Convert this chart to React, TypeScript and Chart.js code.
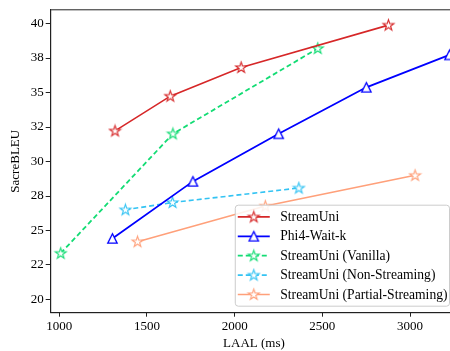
import React, { useEffect, useRef } from 'react';
import { Chart, registerables } from 'chart.js';

Chart.register(...registerables);

// ---- data ----
const seriesNames = [
  'StreamUni',
  'Phi4-Wait-k',
  'StreamUni (Vanilla)',
  'StreamUni (Non-Streaming)',
  'StreamUni (Partial-Streaming)',
];
const streamUniLaal = [1318, 1633, 2037, 2877];
const streamUniBleu = [32.22, 34.74, 36.82, 39.89];
const waitkLaal = [1303, 1762, 2251, 2751, 3225];
const waitkBleu = [24.42, 28.56, 32.01, 35.38, 37.73];
const vanillaLaal = [1008, 1648, 2474];
const vanillaBleu = [23.35, 32.01, 38.2];
const nonStreamLaal = [1377, 1646, 2366];
const nonStreamBleu = [26.5, 27.03, 28.08];
const partialLaal = [1446, 2175, 3029];
const partialBleu = [24.19, 26.77, 29.0];

const xTickValues = [1000, 1500, 2000, 2500, 3000];
const yTickValues = [20, 22.5, 25, 27.5, 30, 32.5, 35, 37.5, 40];
const yTickLabels = ['20', '22', '25', '28', '30', '32', '35', '38', '40'];

const FONT = "'Liberation Serif', 'DejaVu Serif', serif";

function makeStar(color: string) {
  const size = 15;
  const c = document.createElement('canvas');
  c.width = size;
  c.height = size;
  const ctx = c.getContext('2d')!;
  ctx.translate(size / 2, size / 2 + 0.3);
  const r = 5.7;
  ctx.beginPath();
  for (let i = 0; i < 10; i++) {
    const rad = i % 2 === 0 ? r : r * 0.382;
    const a = -Math.PI / 2 + (i * Math.PI) / 5;
    if (i === 0) ctx.moveTo(rad * Math.cos(a), rad * Math.sin(a));
    else ctx.lineTo(rad * Math.cos(a), rad * Math.sin(a));
  }
  ctx.closePath();
  ctx.fillStyle = '#ffffff';
  ctx.fill();
  ctx.strokeStyle = color;
  ctx.lineWidth = 1.1;
  ctx.lineJoin = 'miter';
  ctx.stroke();
  return c;
}

function makeTriangle(color: string) {
  const size = 15;
  const c = document.createElement('canvas');
  c.width = size;
  c.height = size;
  const ctx = c.getContext('2d')!;
  ctx.translate(size / 2, size / 2);
  const h = 4.7;
  ctx.beginPath();
  ctx.moveTo(0, -h);
  ctx.lineTo(-h, h);
  ctx.lineTo(h, h);
  ctx.closePath();
  ctx.fillStyle = '#ffffff';
  ctx.fill();
  ctx.strokeStyle = color;
  ctx.lineWidth = 1.3;
  ctx.stroke();
  return c;
}

const framePlugin = {
  id: 'frame',
  afterDraw(chart: any) {
    const { ctx, chartArea } = chart;
    ctx.save();
    ctx.strokeStyle = '#222';
    ctx.lineWidth = 1;
    ctx.strokeRect(chartArea.left, chartArea.top, chartArea.right - chartArea.left, chartArea.bottom - chartArea.top);
    ctx.restore();
  },
};

const legendPlugin = {
  id: 'mplLegend',
  afterDraw(chart: any) {
    const { ctx, chartArea } = chart;
    const ds = chart.data.datasets;
    ctx.save();
    ctx.font = `13.6px ${FONT}`;
    let maxW = 0;
    ds.forEach((d: any) => {
      maxW = Math.max(maxW, ctx.measureText(d.label).width);
    });
    const rowH = 19.4;
    const right = Math.min(chartArea.right - 6.5, 449.5);
    const bottom = chartArea.bottom - 6.5;
    const top = bottom - (rowH * ds.length + 4);
    const textOffset = 45;
    const left = right - (textOffset + maxW + 2);
    const w = right - left;
    const h = bottom - top;
    const rad = 3;
    ctx.beginPath();
    ctx.moveTo(left + rad, top);
    ctx.lineTo(left + w - rad, top);
    ctx.quadraticCurveTo(left + w, top, left + w, top + rad);
    ctx.lineTo(left + w, top + h - rad);
    ctx.quadraticCurveTo(left + w, top + h, left + w - rad, top + h);
    ctx.lineTo(left + rad, top + h);
    ctx.quadraticCurveTo(left, top + h, left, top + h - rad);
    ctx.lineTo(left, top + rad);
    ctx.quadraticCurveTo(left, top, left + rad, top);
    ctx.closePath();
    ctx.fillStyle = 'rgba(255,255,255,0.85)';
    ctx.fill();
    ctx.strokeStyle = '#cccccc';
    ctx.lineWidth = 1;
    ctx.stroke();

    ds.forEach((d: any, i: number) => {
      const cy = top + 2 + rowH * (i + 0.5);
      const x0 = left + 2.5;
      const x1 = left + 34.5;
      ctx.beginPath();
      ctx.setLineDash(d.borderDash || []);
      ctx.strokeStyle = d.borderColor;
      ctx.lineWidth = d.borderWidth;
      ctx.moveTo(x0, cy);
      ctx.lineTo(x1, cy);
      ctx.stroke();
      ctx.setLineDash([]);
      const img = d.pointStyle as HTMLCanvasElement;
      ctx.drawImage(img, (x0 + x1) / 2 - img.width / 2, cy - img.height / 2);
      ctx.fillStyle = '#000';
      ctx.textBaseline = 'middle';
      ctx.textAlign = 'left';
      ctx.fillText(d.label, left + textOffset, cy + 0.5);
    });
    ctx.restore();
  },
};

function pts(xs: number[], ys: number[]) {
  return xs.map((x, i) => ({ x, y: ys[i] }));
}

export default function App() {
  const ref = useRef<HTMLCanvasElement>(null);
  useEffect(() => {
    if (!ref.current) return;
    const colors = ['#d62728', '#0000ff', '#13dc74', '#33c3f3', '#ffa07a'];
    const widths = [1.6, 1.8, 1.8, 1.6, 1.6];
    const dashes = [[], [], [5, 3], [5, 3], []];
    const xsList = [streamUniLaal, waitkLaal, vanillaLaal, nonStreamLaal, partialLaal];
    const ysList = [streamUniBleu, waitkBleu, vanillaBleu, nonStreamBleu, partialBleu];
    const datasets = seriesNames.map((name, i) => ({
      label: name,
      data: pts(xsList[i], ysList[i]),
      borderColor: colors[i],
      backgroundColor: colors[i],
      borderWidth: widths[i],
      borderDash: dashes[i],
      pointStyle: i === 1 ? makeTriangle(colors[i]) : makeStar(colors[i]),
      pointRadius: 6,
      tension: 0,
      order: i,
    }));
    const chart = new Chart(ref.current, {
      type: 'line',
      data: { datasets },
      options: {
        animation: false,
        responsive: false,
        devicePixelRatio: 1,
        layout: { padding: { top: 6.7, right: 2, left: 0, bottom: 0 } },
        plugins: { legend: { display: false }, tooltip: { enabled: false } },
        scales: {
          x: {
            type: 'linear',
            min: 951,
            max: 3269,
            afterFit: (s: any) => {
              s.height = 38.3;
            },
            afterBuildTicks: (s: any) => {
              s.ticks = xTickValues.map((v) => ({ value: v }));
            },
            ticks: {
              autoSkip: false,
              maxRotation: 0,
              padding: 2,
              color: '#000',
              font: { family: FONT, size: 13 },
              callback: (v: any) => String(v),
            },
            grid: { drawOnChartArea: false, drawTicks: true, tickLength: 4, tickColor: '#222' },
            border: { display: true, color: '#222', width: 1 },
            title: {
              display: true,
              text: 'LAAL (ms)',
              color: '#000',
              font: { family: FONT, size: 13 },
              padding: { top: 0, bottom: 0 },
            },
          },
          y: {
            type: 'linear',
            min: 19.04,
            max: 41.0,
            afterFit: (s: any) => {
              s.width = 50.7;
            },
            afterBuildTicks: (s: any) => {
              s.ticks = yTickValues.map((v) => ({ value: v }));
            },
            ticks: {
              autoSkip: false,
              padding: 2,
              color: '#000',
              font: { family: FONT, size: 13 },
              callback: (_v: any, idx: number) => yTickLabels[idx],
            },
            grid: { drawOnChartArea: false, drawTicks: true, tickLength: 5, tickColor: '#222' },
            border: { display: true, color: '#222', width: 1 },
            title: {
              display: true,
              text: 'SacreBLEU',
              color: '#000',
              font: { family: FONT, size: 13 },
              padding: { top: 8, bottom: 0 },
            },
          },
        },
      },
      plugins: [framePlugin, legendPlugin],
    } as any);
    return () => chart.destroy();
  }, []);
  return (
    <div style={{ position: 'fixed', left: 0, top: 0, width: 450, height: 351, overflow: 'hidden', background: '#fff' }}>
      <canvas ref={ref} width={465} height={351} style={{ width: 465, height: 351, display: 'block' }} />
    </div>
  );
}
